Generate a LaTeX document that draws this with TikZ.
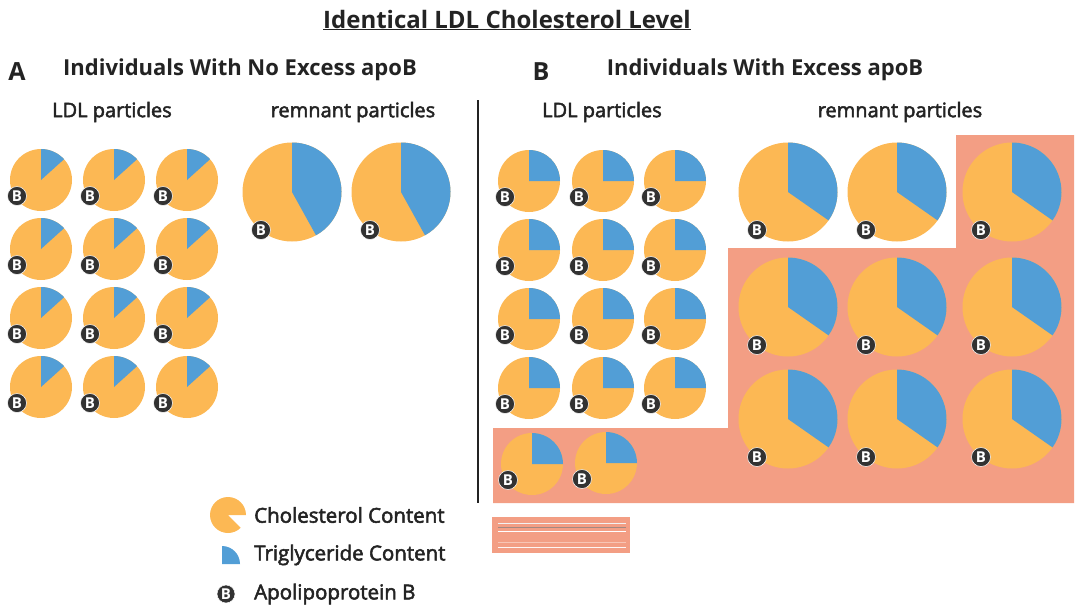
\documentclass[tikz,border=0pt]{standalone}
\usepackage{fontspec}
\setmainfont{Open Sans}
\newfontfamily\medfont{Open Sans}[FakeBold=2.5]
\definecolor{chol}{RGB}{252,184,84}
\definecolor{trig}{RGB}{82,158,214}
\definecolor{salmon}{RGB}{243,158,132}
\definecolor{badgec}{RGB}{50,50,50}
\definecolor{ink}{RGB}{35,35,35}
\newcommand\fs[1]{\fontsize{#1}{#1}\selectfont}
% name, x, y, r, angle, badge dx, badge dy
\newcommand\particle[7]{%
  \fill[chol] (#2,-#3) circle (#4pt);
  \fill[trig] (#2,-#3) -- ++(#5:#4pt) arc[start angle=#5,end angle=90,radius=#4pt] -- cycle;
  \node[apob] (#1) at (#2+#6,-#3-#7) {B};
}
\newcommand\ldl[4]{\particle{#1}{#2}{#3}{31}{#4}{-24}{16}}
\newcommand\rem[4]{\particle{#1}{#2}{#3}{49.5}{#4}{-31}{38}}
\begin{document}
\begin{tikzpicture}[x=1pt,y=1pt,
  apob/.style={circle,fill=badgec,draw=white,line width=0.5pt,inner sep=0pt,minimum size=19pt,text=white,font=\fs{15}\bfseries},
  head/.style={text=ink,font=\fs{22}\bfseries,inner sep=0pt},
  sub/.style={text=ink,font=\fs{20}\medfont,inner sep=0pt},
  leg/.style={text=ink,font=\fs{20.5}\medfont,inner sep=0pt,anchor=west}]
\useasboundingbox (0,0) rectangle (1080,-614);
% title
\node[text=ink,font=\fs{24}\bfseries,inner sep=0pt] (title) at (507,-20) {\underline{Identical LDL Cholesterol Level}};
% headers
\node[head,font=\fs{25}\bfseries] (la) at (17,-72) {A};
\node[head] (ha) at (240,-70) {Individuals With No Excess apoB};
\node[head,font=\fs{25}\bfseries] (lb) at (541,-72) {B};
\node[head] (hb) at (765,-70) {Individuals With Excess apoB};
\node[sub] (sa1) at (112,-112) {LDL particles};
\node[sub] (sa2) at (353,-112) {remnant particles};
\node[sub] (sb1) at (602,-112) {LDL particles};
\node[sub] (sb2) at (900,-112) {remnant particles};
% divider
\draw[ink,line width=1.6pt] (478,-100) -- (478,-503);
% pink region
\fill[salmon] (493,-428) -- (728,-428) -- (728,-248) -- (956,-248) -- (956,-135) -- (1074,-135) -- (1074,-503) -- (493,-503) -- cycle;
\fill[salmon] (492,-517) rectangle (630,-553);
\draw[white!90!gray,line width=1pt] (498,-523) -- (626,-523);
\draw[gray!70!salmon,line width=0.8pt] (498,-527) -- (626,-527);
\draw[white,line width=1pt] (498,-531) -- (626,-531);
\draw[salmon!60!white,line width=1pt] (498,-542) -- (626,-542);
\draw[white!90!salmon,line width=1pt] (498,-547) -- (626,-547);
% panel A LDL
\foreach \c/\x in {1/41,2/114,3/187}{
  \foreach \r/\y in {1/180,2/249,3/318,4/387}{
    \ldl{a\r\c}{\x}{\y}{42}
  }
}
% panel A remnant
\rem{ar1}{292}{192}{-61}
\rem{ar2}{401}{192}{-61}
% panel B LDL
\foreach \c/\x in {1/529,2/603,3/675}{
  \foreach \r/\y in {1/181,2/250,3/319,4/388}{
    \ldl{b\r\c}{\x}{\y}{0}
  }
}
\ldl{b51}{532}{464}{0}
\ldl{b52}{606}{463}{0}
% panel B remnant
\foreach \c/\x in {1/788,2/897,3/1012}{
  \foreach \r/\y in {1/192,2/307,3/419}{
    \rem{br\r\c}{\x}{\y}{-35}
  }
}
% legend
\fill[chol] (228,-515) -- ++(0:18pt) arc[start angle=0,end angle=315,radius=18pt] -- cycle;
\fill[trig] (222,-564) -- ++(0:18pt) arc[start angle=0,end angle=90,radius=18pt] -- cycle;
\node[leg] (l1) at (254,-515) {Cholesterol Content};
\node[leg] (l2) at (254,-555) {Triglyceride Content};
\node[apob,minimum size=18pt] (lb3) at (226,-594) {B};
\node[leg] (l3) at (254,-594) {Apolipoprotein B};
\end{tikzpicture}
\end{document}
